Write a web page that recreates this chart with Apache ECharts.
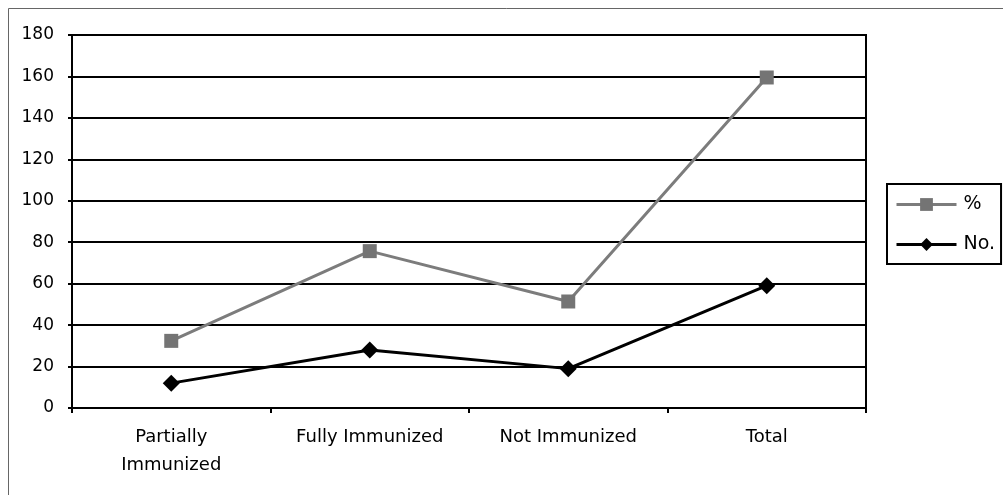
<!DOCTYPE html>
<html>
<head>
<meta charset="utf-8">
<script src="https://cdn.jsdelivr.net/npm/echarts@6/dist/echarts.min.js"></script>
<style>html,body{margin:0;padding:0;background:#fff;}#c{width:1003px;height:495px;}</style>
</head>
<body>
<div id="c"></div>
<script>
const categories = ['Partially\nImmunized', 'Fully Immunized', 'Not Immunized', 'Total'];
const pctValues = [32.4, 75.7, 51.4, 159.5];
const noValues = [12, 28, 19, 59];
const yTicks = { min: 0, max: 180, interval: 20 };

const FONT = 'DejaVu Sans';
const chart = echarts.init(document.getElementById('c'), null, { renderer: 'canvas' });
chart.setOption({
  animation: false,
  backgroundColor: '#fff',
  textStyle: { fontFamily: FONT, color: '#000' },
  graphic: [{
    type: 'rect', silent: true, z: 0,
    shape: { x: 8.5, y: 8.5, width: 1100, height: 600 },
    style: { fill: 'none', stroke: '#666', lineWidth: 1 }
  }],
  grid: { left: 72, right: 137, top: 35, bottom: 87, show: true, borderColor: '#000', borderWidth: 2, backgroundColor: 'transparent' },
  legend: {
    orient: 'vertical', left: 887, top: 184,
    padding: [11, 6, 10, 8],
    itemGap: 21, itemWidth: 60, itemHeight: 16,
    borderColor: '#000', borderWidth: 2, backgroundColor: '#fff',
    lineStyle: { width: 3 },
    textStyle: { fontFamily: FONT, fontSize: 19, color: '#000', padding: [0, 0, 0, 2] },
    data: ['%', 'No.']
  },
  xAxis: {
    type: 'category', data: categories, boundaryGap: true,
    axisLine: { lineStyle: { color: '#000', width: 2 } },
    axisTick: { show: true, length: 5, alignWithLabel: false, lineStyle: { color: '#000', width: 2 } },
    axisLabel: { fontFamily: FONT, fontSize: 18, color: '#000', margin: 15, lineHeight: 28, interval: 0 },
    splitLine: { show: false }
  },
  yAxis: {
    type: 'value', min: yTicks.min, max: yTicks.max, interval: yTicks.interval,
    axisLine: { show: true, lineStyle: { color: '#000', width: 2 } },
    axisTick: { show: true, length: 4, lineStyle: { color: '#000', width: 2 } },
    axisLabel: { fontFamily: FONT, fontSize: 17, color: '#000', margin: 18 },
    splitLine: { show: true, lineStyle: { color: '#000', width: 2 } }
  },
  series: [
    {
      name: '%', type: 'line', data: pctValues,
      symbol: 'rect', symbolSize: 14,
      lineStyle: { color: '#7c7c7c', width: 3 },
      itemStyle: { color: '#747474' },
      z: 3
    },
    {
      name: 'No.', type: 'line', data: noValues,
      symbol: 'diamond', symbolSize: 17,
      lineStyle: { color: '#000', width: 3 },
      itemStyle: { color: '#000' },
      z: 4
    }
  ]
});
</script>
</body>
</html>
